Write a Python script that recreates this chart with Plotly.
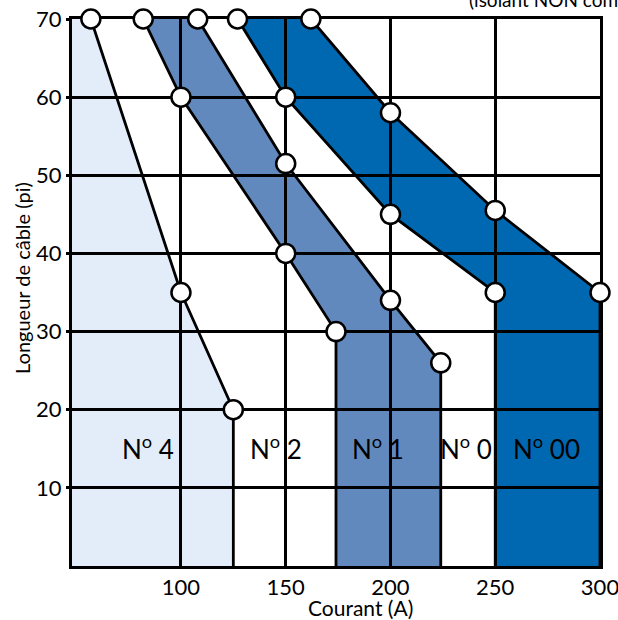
import plotly.graph_objects as go

# Axis extents
X_RANGE = [48, 300]
Y_RANGE = [0, 70]
x_ticks = [100, 150, 200, 250, 300]
y_ticks = [10, 20, 30, 40, 50, 60, 70]

# Cable gauge N° 4 : upper limit curve (current A, length ft)
g4_x = [57, 100, 125]
g4_y = [70, 35, 20]

# Gauges N° 2 / N° 1 band
g2_x = [82, 100, 150, 174]
g2_y = [70, 60, 40, 30]
g1_x = [108, 150, 200, 224]
g1_y = [70, 51.5, 34, 26]

# Gauges N° 0 / N° 00 band
g0_x = [127, 150, 200, 250]
g0_y = [70, 60, 45, 35]
g00_x = [162, 200, 250, 300]
g00_y = [70, 58, 45.5, 35]

zone_labels = ["N<sup>o</sup> 4", "N<sup>o</sup> 2", "N<sup>o</sup> 1", "N<sup>o</sup> 0", "N<sup>o</sup> 00"]
label_x = [84.3, 145.2, 194, 236, 274.6]
label_y = 15.2

LIGHT = "rgb(227,237,250)"
MID = "rgb(98,137,190)"
DARK = "rgb(0,103,177)"
FONT = "Lato, 'Open Sans', sans-serif"


def path_from(xs, ys):
    pts = " L ".join(f"{x},{y}" for x, y in zip(xs, ys))
    return "M " + pts + " Z"


fig = go.Figure()

# Filled zones (under the grid)
poly4_x = [X_RANGE[0], X_RANGE[0]] + g4_x + [g4_x[-1]]
poly4_y = [Y_RANGE[0], Y_RANGE[1]] + g4_y + [Y_RANGE[0]]
poly21_x = g2_x + [g2_x[-1], g1_x[-1]] + g1_x[::-1]
poly21_y = g2_y + [Y_RANGE[0], Y_RANGE[0]] + g1_y[::-1]
poly000_x = g0_x + [g0_x[-1], g00_x[-1]] + g00_x[::-1]
poly000_y = g0_y + [Y_RANGE[0], Y_RANGE[0]] + g00_y[::-1]

shapes = []
for px, py, col in [(poly4_x, poly4_y, LIGHT), (poly21_x, poly21_y, MID), (poly000_x, poly000_y, DARK)]:
    shapes.append(dict(type="path", xref="x", yref="y", path=path_from(px, py),
                       fillcolor=col, line=dict(width=0), layer="below"))

# Boundary curves with a vertical drop to the axis
for cx, cy in [(g4_x, g4_y), (g2_x, g2_y), (g1_x, g1_y), (g0_x, g0_y), (g00_x, g00_y)]:
    fig.add_trace(go.Scatter(x=cx + [cx[-1]], y=cy + [Y_RANGE[0]], mode="lines",
                             line=dict(color="black", width=2.8), hoverinfo="skip",
                             showlegend=False))

# Circle markers on the break points
for cx, cy in [(g4_x, g4_y), (g2_x, g2_y), (g1_x, g1_y), (g0_x, g0_y), (g00_x, g00_y)]:
    fig.add_trace(go.Scatter(x=cx, y=cy, mode="markers",
                             marker=dict(symbol="circle", size=19, color="white",
                                         line=dict(color="black", width=2.5)),
                             cliponaxis=False, showlegend=False))

annotations = []
for txt, lx in zip(zone_labels, label_x):
    annotations.append(dict(x=lx, y=label_y, xref="x", yref="y", text=txt, showarrow=False,
                            xanchor="center", yanchor="middle",
                            font=dict(family=FONT, size=26, color="black")))

annotations.append(dict(x=0.5455, y=-0.075, xref="paper", yref="paper", text="Courant (A)",
                        xanchor="center", yanchor="middle", showarrow=False,
                        font=dict(family=FONT, size=21, color="black")))
annotations.append(dict(x=-0.0947, y=0.5265, xref="paper", yref="paper",
                        text="Longueur de câble (pi)", textangle=-90, showarrow=False,
                        xanchor="center", yanchor="middle",
                        font=dict(family=FONT, size=20, color="black")))
annotations.append(dict(x=0.748, y=1.035, xref="paper", yref="paper", xanchor="left",
                        yanchor="middle", text="(isolant NON compris)", showarrow=False,
                        font=dict(family=FONT, size=19, color="black")))

fig.update_layout(
    width=618, height=620,
    margin=dict(l=72, r=18, t=19, b=54, autoexpand=False),
    paper_bgcolor="white", plot_bgcolor="white",
    shapes=shapes, annotations=annotations,
    showlegend=False,
    font=dict(family=FONT, color="black"),
)
fig.update_xaxes(range=X_RANGE, tickvals=x_ticks, showgrid=True, gridcolor="black", gridwidth=2.8,
                 showline=True, linecolor="black", linewidth=3, mirror=True, zeroline=False,
                 ticks="", tickfont=dict(family=FONT, size=22, color="black"),
                 ticklabeloverflow="allow", automargin=False,
                 layer="below traces", fixedrange=True)
fig.update_yaxes(range=Y_RANGE, tickvals=y_ticks, showgrid=True, gridcolor="black", gridwidth=2.8,
                 showline=True, linecolor="black", linewidth=3, mirror=True, zeroline=False,
                 ticks="outside", ticklen=3, tickwidth=2.5, tickcolor="black",
                 tickfont=dict(family=FONT, size=22, color="black"),
                 ticklabeloverflow="allow", automargin=False,
                 layer="below traces", fixedrange=True)

fig.write_html("out.html")
